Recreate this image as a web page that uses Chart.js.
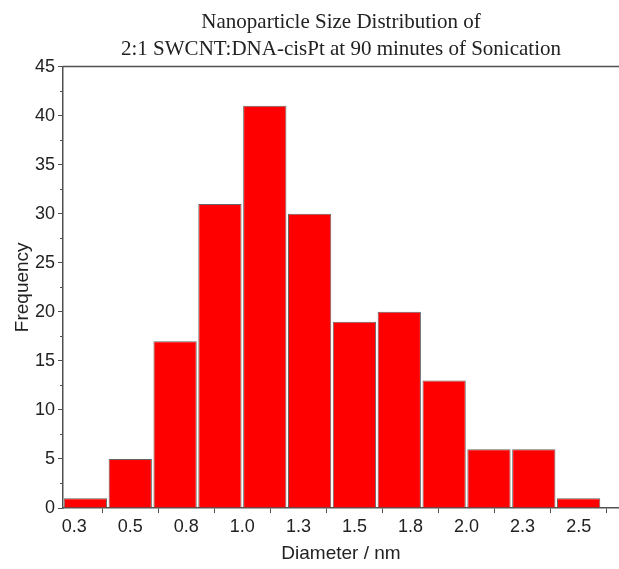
<!DOCTYPE html>
<html>
<head>
<meta charset="utf-8">
<script src="https://cdn.jsdelivr.net/npm/chart.js@4/dist/chart.umd.min.js"></script>
<style>
html,body{margin:0;padding:0;background:#fff;}
#wrap{width:619px;height:569px;}
</style>
</head>
<body>
<div id="wrap"><canvas id="hist"></canvas></div>
<script>
// bin centres (nm) and counts, bins are 0.2 nm wide
const binCentres = [0.3, 0.5, 0.7, 0.9, 1.1, 1.3, 1.5, 1.7, 1.9, 2.1, 2.3, 2.5];
const counts = [1, 5, 17, 31, 41, 30, 19, 20, 13, 6, 6, 1];

// x ticks every 0.25 nm, labelled with one decimal like the original
const xTickValues = [0.25, 0.5, 0.75, 1.0, 1.25, 1.5, 1.75, 2.0, 2.25, 2.5];
const xTickLabels = ["0.3", "0.5", "0.8", "1.0", "1.3", "1.5", "1.8", "2.0", "2.3", "2.5"];
const yMinorValues = [2.5, 7.5, 12.5, 17.5, 22.5, 27.5, 32.5, 37.5, 42.5];

const axisCol = "#505050";
const textCol = "#222";

// frame line on top + minor y ticks
const extras = {
  id: "extras",
  afterDraw(chart){
    const ctx = chart.ctx;
    const a = chart.chartArea;
    const y = chart.scales.y;
    ctx.save();
    ctx.strokeStyle = axisCol;
    ctx.lineWidth = 1.5;
    ctx.beginPath();
    ctx.moveTo(a.left, a.top);
    ctx.lineTo(a.right, a.top);
    ctx.stroke();
    ctx.lineWidth = 1;
    yMinorValues.forEach(v => {
      const py = Math.round(y.getPixelForValue(v)) + 0.5;
      ctx.beginPath();
      ctx.moveTo(a.left - 3, py);
      ctx.lineTo(a.left, py);
      ctx.stroke();
    });
    ctx.restore();
  }
};

new Chart(document.getElementById("hist"), {
  type: "bar",
  data: {
    datasets: [{
      data: binCentres.map((c, i) => ({x: c, y: counts[i]})),
      backgroundColor: "#ff0000",
      borderColor: "#666",
      borderWidth: 1,
      barPercentage: 0.965,
      categoryPercentage: 1
    }]
  },
  options: {
    responsive: true,
    maintainAspectRatio: false,
    animation: false,
    layout: {padding: {top: 0, right: 0, left: 0, bottom: 4}},
    plugins: {
      legend: {display: false},
      tooltip: {enabled: false},
      title: {
        display: true,
        fullSize: false,
        text: ["Nanoparticle Size Distribution of", "2:1 SWCNT:DNA-cisPt at 90 minutes of Sonication"],
        font: {family: "Liberation Serif", size: 21, weight: "normal", lineHeight: 1.3},
        color: textCol,
        padding: {top: 9, bottom: 3}
      }
    },
    scales: {
      x: {
        type: "linear",
        min: 0.2,
        max: 2.68,
        offset: false,
        afterBuildTicks: s => { s.ticks = xTickValues.map(v => ({value: v})); },
        afterFit: s => { s.height = 57; },
        ticks: {
          callback: (v, i) => xTickLabels[i],
          font: {family: "Liberation Sans", size: 18},
          color: textCol,
          padding: 3,
          maxRotation: 0
        },
        grid: {drawOnChartArea: false, tickLength: 5, color: axisCol, tickWidth: 1},
        border: {color: axisCol, width: 1.5},
        title: {
          display: true,
          text: "Diameter / nm",
          font: {family: "Liberation Sans", size: 19},
          color: textCol,
          padding: {top: 4, bottom: 0}
        }
      },
      y: {
        min: 0,
        max: 45,
        afterFit: s => { s.width = 63; },
        ticks: {
          stepSize: 5,
          font: {family: "Liberation Sans", size: 18},
          color: textCol,
          padding: 3
        },
        grid: {drawOnChartArea: false, tickLength: 5, color: axisCol, tickWidth: 1},
        border: {color: axisCol, width: 1.5},
        title: {
          display: true,
          text: "Frequency",
          font: {family: "Liberation Sans", size: 19},
          color: textCol,
          padding: {top: 11, bottom: 2}
        }
      }
    }
  },
  plugins: [extras]
});
</script>
</body>
</html>
